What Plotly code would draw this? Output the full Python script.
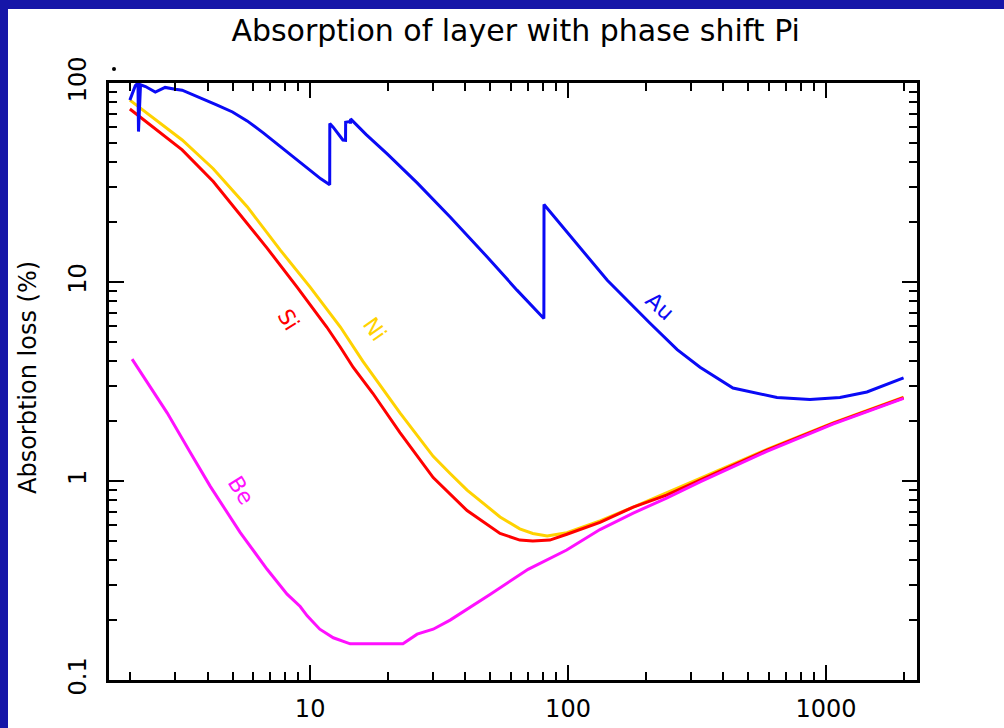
import numpy as np
import plotly.graph_objects as go

# ---------------- data (energy in keV, absorption loss in %) ----------------
au_energy = [2.0, 2.1, 2.15, 2.16, 2.2, 2.3, 2.51, 2.74, 3.0, 3.19, 4.36, 5.0, 5.70, 6.6, 7.65,
             8.7, 9.74, 11.0, 11.91, 11.92, 12.28, 13.4, 13.72, 13.73, 14.3, 14.34, 14.35,
             16.5, 19.9, 26.0, 34.9, 48.5, 63.4, 80.6, 80.7, 113, 142, 208, 265, 325, 436,
             646, 867, 1133, 1442, 2000]
au_loss = [82, 97, 100, 57, 98, 96, 90, 95, 93, 92, 77.5, 71.5, 64.5, 56, 48,
           42, 37.5, 33, 30.8, 62.5, 60, 51.7, 51.5, 63.5, 64, 62.5, 66,
           55, 44, 31.5, 21.2, 13.4, 9.1, 6.55, 24.5, 14.5, 10.2, 6.2, 4.57, 3.73, 2.93,
           2.63, 2.57, 2.63, 2.80, 3.3]

si_energy = [2.0, 3.19, 4.21, 5.70, 6.81, 8.9, 11.6, 13.1, 14.7, 17.5, 22.3, 30.0, 34.9,
             40.6, 54.5, 65, 73, 85, 99, 133, 179, 241, 325, 590, 1064, 2000]
si_loss = [74, 46.1, 32, 19.8, 14.8, 9.42, 5.94, 4.7, 3.72, 2.76, 1.75, 1.04, 0.86,
           0.71, 0.545, 0.505, 0.50, 0.505, 0.54, 0.62, 0.74, 0.85, 1.01, 1.43, 1.95, 2.62]

ni_energy = [2.0, 3.19, 4.21, 5.70, 7.65, 10.0, 13.1, 16.0, 22.3, 30.0, 34.9,
             40.6, 54.5, 65, 73, 83, 99, 133, 179, 241, 325, 590, 1064, 2000]
ni_loss = [82, 51.7, 37.1, 23.9, 14.5, 9.42, 5.94, 4.0, 2.2, 1.33, 1.09,
           0.90, 0.66, 0.575, 0.545, 0.53, 0.55, 0.63, 0.74, 0.87, 1.03, 1.44, 1.96, 2.64]

be_energy = [2.04, 2.40, 2.79, 3.43, 4.10, 5.36, 6.81, 8.14, 9.15, 9.74, 10.9, 12.3, 14.3,
             22.9, 26.0, 30.0, 34.9, 50, 70, 98.8, 133, 179, 241, 325, 590, 1064, 2000]
be_loss = [4.10, 2.95, 2.20, 1.39, 0.94, 0.55, 0.36, 0.27, 0.234, 0.21, 0.18, 0.163, 0.152,
           0.152, 0.17, 0.18, 0.20, 0.27, 0.36, 0.45, 0.57, 0.69, 0.82, 0.99, 1.41, 1.93, 2.60]

x_tick_vals = [10, 100, 1000]
x_tick_text = ["10", "100", "1000"]
y_tick_vals = [0.1, 1, 10, 100]
y_tick_text = ["0.1", "1", "10", "100"]

series = [
    ("Au", au_energy, au_loss, "#0a0af5"),
    ("Si", si_energy, si_loss, "#ff0000"),
    ("Ni", ni_energy, ni_loss, "#ffd200"),
    ("Be", be_energy, be_loss, "#ff10ff"),
]
# label anchor (energy, loss) and rotation
labels = {
    "Au": (227, 7.5, 42),
    "Si": (8.2, 6.45, 58),
    "Ni": (17.8, 5.75, 55),
    "Be": (5.4, 0.90, 58),
}

W, H = 1004, 728
ML, MR, MT, MB = 109, 87, 83, 48
PW, PH = W - ML - MR, H - MT - MB


def px_x(p):
    return (p - ML) / PW


def px_y(p):
    return (H - MB - p) / PH


fig = go.Figure()
for name, xs, ys, col in [series[2], series[1], series[3], series[0]]:
    fig.add_trace(go.Scatter(x=xs, y=ys, mode="lines", name=name,
                             line=dict(color=col, width=3), showlegend=False))

font = "DejaVu Sans"
for name, xs, ys, col in series:
    ex, ly, ang = labels[name]
    fig.add_annotation(x=np.log10(ex), y=np.log10(ly), text=name, showarrow=False,
                       textangle=ang, font=dict(family=font, size=22, color=col))

minor_x = [v * m for m in (1, 10, 100) for v in range(2, 10)] + [2000]
minor_y = [v * m for m in (0.1, 1, 10) for v in range(2, 10)]

axis_common = dict(type="log", showline=True, linewidth=3, linecolor="black",
                   mirror="allticks", ticks="inside", ticklen=15, tickwidth=2,
                   tickcolor="black", showgrid=False, zeroline=False, automargin=False,
                   tickfont=dict(family=font, size=24, color="black"))

fig.update_xaxes(range=[np.log10(1.66), np.log10(2255)], tickmode="array",
                 tickvals=x_tick_vals, ticktext=x_tick_text, ticklabelstandoff=5,
                 minor=dict(ticks="inside", ticklen=8, tickwidth=2, tickcolor="black",
                            tickmode="array", tickvals=minor_x, showgrid=False),
                 **axis_common)
fig.update_yaxes(range=[-1, 2], tickmode="array", tickvals=y_tick_vals,
                 ticktext=y_tick_text, tickangle=-90, ticklabelstandoff=10,
                 minor=dict(ticks="inside", ticklen=8, tickwidth=2, tickcolor="black",
                            tickmode="array", tickvals=minor_y, showgrid=False),
                 **axis_common)

# y-axis title placed at the left edge
fig.add_annotation(xref="paper", yref="paper", x=px_x(28), y=px_y(378),
                   xanchor="center", yanchor="middle", showarrow=False, textangle=-90,
                   text="Absorbtion loss (%)", font=dict(family=font, size=24, color="black"))

# background frame (blue border on left and top)
blue = "#1616a8"
fig.add_shape(type="rect", xref="paper", yref="paper",
              x0=px_x(0), x1=px_x(8), y0=px_y(H), y1=px_y(0),
              fillcolor=blue, line_width=0, layer="below")
fig.add_shape(type="rect", xref="paper", yref="paper",
              x0=px_x(0), x1=px_x(W), y0=px_y(9), y1=px_y(0),
              fillcolor=blue, line_width=0, layer="below")
# small stray dot above the frame
fig.add_shape(type="circle", xref="paper", yref="paper",
              x0=px_x(112), x1=px_x(116), y0=px_y(71), y1=px_y(67),
              fillcolor="black", line_width=0)

# x-axis title, mostly cut off at bottom
fig.add_annotation(xref="paper", yref="paper", x=px_x(522), y=px_y(723),
                   xanchor="center", yanchor="top", showarrow=False,
                   text="Energy (keV)", font=dict(family=font, size=24, color="black"))

fig.update_layout(
    width=W, height=H,
    margin=dict(l=ML, r=MR, t=MT, b=MB, pad=0),
    paper_bgcolor="white", plot_bgcolor="white",
    title=dict(text="Absorption of layer with phase shift Pi", x=px_x(524), xanchor="center",
               y=1 - 30 / H, yanchor="middle",
               font=dict(family=font, size=30, color="black")),
)

fig.write_html("out.html", config={"displayModeBar": False},
               post_script="document.body.style.margin='0';"
                           "document.body.style.overflow='hidden';")
